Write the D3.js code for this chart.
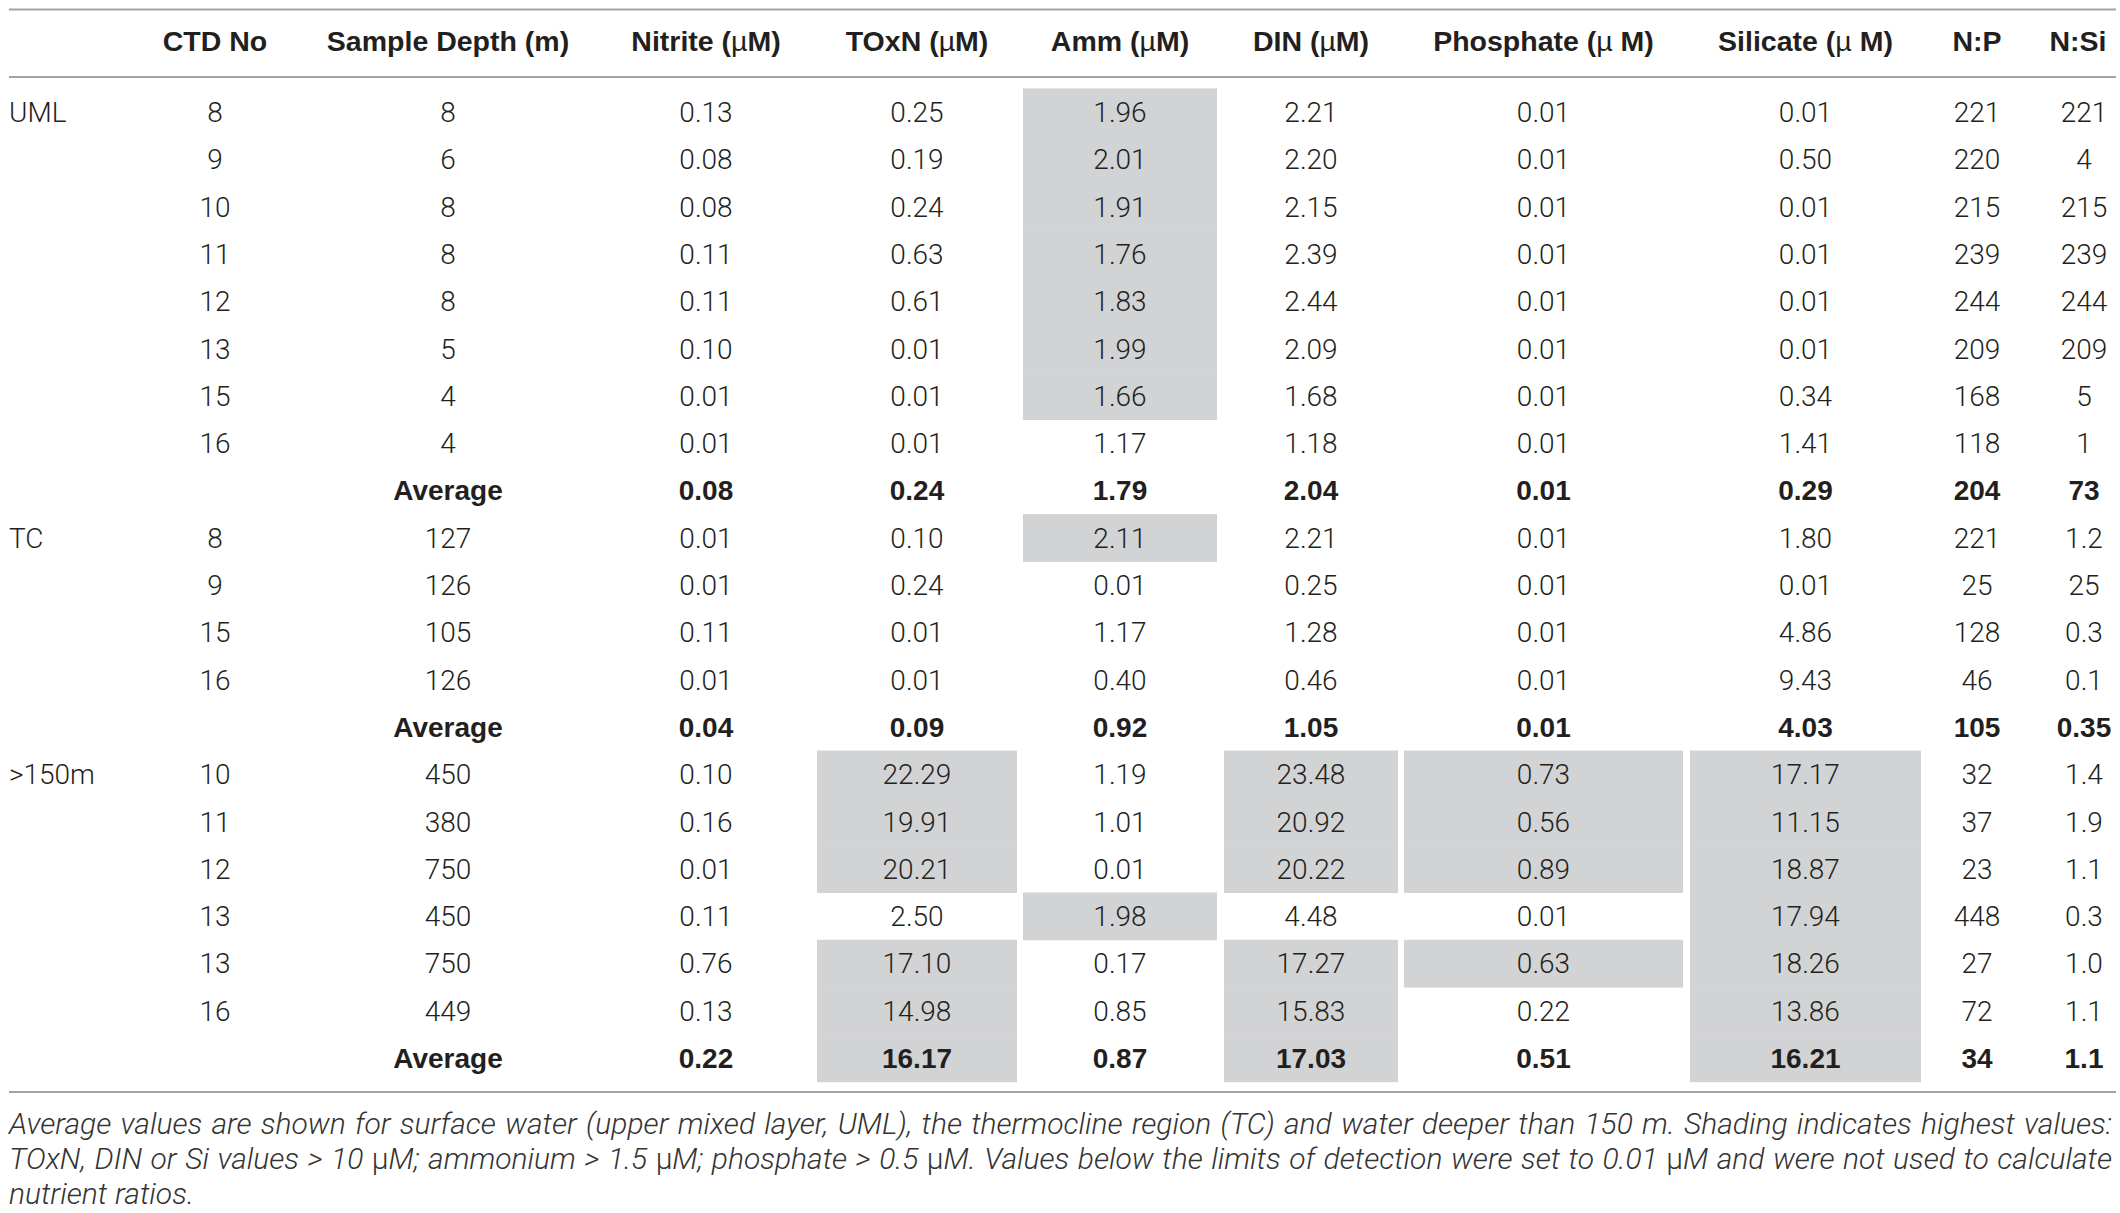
<!DOCTYPE html>
<html>
<head>
<meta charset="utf-8">
<script src="https://cdn.jsdelivr.net/npm/d3@7"></script>
<style>
    html, body { margin: 0; padding: 0; background: #fff; }
    svg { display: block; }
    .cell { font-family: Roboto, 'Liberation Sans', sans-serif; font-weight: 300; font-size: 28px; fill: #231f20; }
    .bold { font-family: 'Liberation Sans', Arial, sans-serif; font-weight: 700; }
    .head { font-family: 'Liberation Sans', Arial, sans-serif; font-weight: 700; font-size: 28.5px; fill: #231f20; }
    .mu { font-weight: 400; }
    .caption { font-family: Roboto, 'Liberation Sans', sans-serif; font-weight: 300; font-style: italic; font-size: 30px; fill: #333333; }
    .caption .upright { font-style: normal; }
</style>
</head>
<body>
<svg width="2120" height="1213"></svg>
<script>

//  Table contents, one array per column (21 rows: UML 8 + avg, TC 4 + avg, >150m 6 + avg)
const groupLabels = [ 'UML', 'TC', '>150m' ];
const groupStartRows = [ 0, 9, 14 ];
const averageRows = [ 8, 13, 20 ];

const ctdNo = [ '8', '9', '10', '11', '12', '13', '15', '16', '', '8', '9', '15', '16', '', '10', '11', '12', '13', '13', '16', '' ];
const sampleDepth = [ '8', '6', '8', '8', '8', '5', '4', '4', 'Average', '127', '126', '105', '126', 'Average', '450', '380', '750', '450', '750', '449', 'Average' ];
const nitrite = [ '0.13', '0.08', '0.08', '0.11', '0.11', '0.10', '0.01', '0.01', '0.08', '0.01', '0.01', '0.11', '0.01', '0.04', '0.10', '0.16', '0.01', '0.11', '0.76', '0.13', '0.22' ];
const toxn = [ '0.25', '0.19', '0.24', '0.63', '0.61', '0.01', '0.01', '0.01', '0.24', '0.10', '0.24', '0.01', '0.01', '0.09', '22.29', '19.91', '20.21', '2.50', '17.10', '14.98', '16.17' ];
const amm = [ '1.96', '2.01', '1.91', '1.76', '1.83', '1.99', '1.66', '1.17', '1.79', '2.11', '0.01', '1.17', '0.40', '0.92', '1.19', '1.01', '0.01', '1.98', '0.17', '0.85', '0.87' ];
const din = [ '2.21', '2.20', '2.15', '2.39', '2.44', '2.09', '1.68', '1.18', '2.04', '2.21', '0.25', '1.28', '0.46', '1.05', '23.48', '20.92', '20.22', '4.48', '17.27', '15.83', '17.03' ];
const phosphate = [ '0.01', '0.01', '0.01', '0.01', '0.01', '0.01', '0.01', '0.01', '0.01', '0.01', '0.01', '0.01', '0.01', '0.01', '0.73', '0.56', '0.89', '0.01', '0.63', '0.22', '0.51' ];
const silicate = [ '0.01', '0.50', '0.01', '0.01', '0.01', '0.01', '0.34', '1.41', '0.29', '1.80', '0.01', '4.86', '9.43', '4.03', '17.17', '11.15', '18.87', '17.94', '18.26', '13.86', '16.21' ];
const ratioNP = [ '221', '220', '215', '239', '244', '209', '168', '118', '204', '221', '25', '128', '46', '105', '32', '37', '23', '448', '27', '72', '34' ];
const ratioNSi = [ '221', '4', '215', '239', '244', '209', '5', '1', '73', '1.2', '25', '0.3', '0.1', '0.35', '1.4', '1.9', '1.1', '0.3', '1.0', '1.1', '1.1' ];

//  Column headers: [text before mu, mu, text after mu]
const headers = [
    [ 'CTD No', null ], [ 'Sample Depth (m)', null ], [ 'Nitrite (', 'µ', 'M)' ], [ 'TOxN (', 'µ', 'M)' ],
    [ 'Amm (', 'µ', 'M)' ], [ 'DIN (', 'µ', 'M)' ], [ 'Phosphate (', 'µ', ' M)' ], [ 'Silicate (', 'µ', ' M)' ],
    [ 'N:P', null ], [ 'N:Si', null ]
];
const columnKeys = [ 'ctd', 'depth', 'nitrite', 'toxn', 'amm', 'din', 'phosphate', 'silicate', 'np', 'nsi' ];
const columnValues = [ ctdNo, sampleDepth, nitrite, toxn, amm, din, phosphate, silicate, ratioNP, ratioNSi ];

//  Shaded (highest value) cells, as row indices per column
const shadedRows = {
    toxn: [ 14, 15, 16, 18, 19, 20 ],
    amm: [ 0, 1, 2, 3, 4, 5, 6, 9, 17 ],
    din: [ 14, 15, 16, 18, 19, 20 ],
    phosphate: [ 14, 15, 16, 18 ],
    silicate: [ 14, 15, 16, 17, 18, 19, 20 ]
};

const captionLines = [
    'Average values are shown for surface water (upper mixed layer, UML), the thermocline region (TC) and water deeper than 150 m. Shading indicates highest values:',
    'TOxN, DIN or Si values > 10 µM; ammonium > 1.5 µM; phosphate > 0.5 µM. Values below the limits of detection were set to 0.01 µM and were not used to calculate',
    'nutrient ratios.'
];


drawTable();


function drawTable() {

    const svg = d3.select('svg');

    //  Layout
    const tableLeft = 9, tableRight = 2116;
    const topLineY = 9.5, headLineY = 77, bottomLineY = 1092;
    const headBaseline = 50.5;
    const rowTop = 88.4, rowHeight = 47.3;
    const rowCount = ctdNo.length;

    //  Column cell edges [left, right]
    const columnEdges = [
        [ 135, 295 ], [ 301, 595 ], [ 601, 811 ], [ 817, 1017 ], [ 1023, 1217 ],
        [ 1224, 1398 ], [ 1404, 1683 ], [ 1690, 1921 ], [ 1927, 2027 ], [ 2033, 2135 ]
    ];
    const headerShift = { nsi: -6 };

    //======================================
    //  Scales
    //======================================
    const yScale = d3.scaleBand()
        .domain( d3.range(rowCount) )
        .range( [ rowTop, rowTop + rowHeight * rowCount ] )
        .padding(0);

    const xLeft = d3.scaleOrdinal().domain(columnKeys).range( columnEdges.map(e => e[0]) );
    const xRight = d3.scaleOrdinal().domain(columnKeys).range( columnEdges.map(e => e[1]) );
    const xCenter = key => (xLeft(key) + xRight(key)) / 2;


    //======================================
    //  Shading
    //======================================
    const shadeCells = [];
    Object.keys(shadedRows).forEach(key => {
        shadedRows[key].forEach(row => shadeCells.push({ key, row }));
    });

    svg.append('g')
        .attr('id', 'shading')
        .selectAll('rect')
        .data(shadeCells)
        .enter()
        .append('rect')
        .attr('x', d => xLeft(d.key))
        .attr('y', d => yScale(d.row))
        .attr('width', d => xRight(d.key) - xLeft(d.key))
        .attr('height', yScale.bandwidth() + 0.5)
        .attr('fill', '#d2d3d5');


    //======================================
    //  Rules
    //======================================
    svg.append('g')
        .attr('id', 'rules')
        .selectAll('line')
        .data([ topLineY, headLineY, bottomLineY ])
        .enter()
        .append('line')
        .attr('x1', tableLeft)
        .attr('x2', tableRight)
        .attr('y1', d => d)
        .attr('y2', d => d)
        .attr('stroke', '#a3a3a3')
        .attr('stroke-width', 2);


    //======================================
    //  Header
    //======================================
    const head = svg.append('g').attr('id', 'header');

    headers.forEach((h, i) => {
        const key = columnKeys[i];
        const text = head.append('text')
            .attr('class', 'head')
            .attr('text-anchor', 'middle')
            .attr('x', xCenter(key) + (headerShift[key] || 0))
            .attr('y', headBaseline);
        text.append('tspan').text(h[0]);
        if (h[1]) {
            text.append('tspan').attr('class', 'mu').text(h[1]);
            text.append('tspan').text(h[2]);
        }
    });


    //======================================
    //  Body cells
    //======================================
    const cells = [];
    columnValues.forEach((values, c) => {
        values.forEach((v, row) => {
            if (v !== '') cells.push({ key: columnKeys[c], row, value: v });
        });
    });

    const textY = row => yScale(row) + yScale.bandwidth() / 2 + 10;

    svg.append('g')
        .attr('id', 'cells')
        .selectAll('text')
        .data(cells)
        .enter()
        .append('text')
        .attr('class', d => averageRows.includes(d.row) ? 'cell bold' : 'cell')
        .attr('text-anchor', 'middle')
        .attr('x', d => xCenter(d.key))
        .attr('y', d => textY(d.row))
        .text(d => d.value);

    svg.append('g')
        .attr('id', 'groups')
        .selectAll('text')
        .data(groupLabels)
        .enter()
        .append('text')
        .attr('class', 'cell')
        .attr('x', tableLeft)
        .attr('y', (d, i) => textY(groupStartRows[i]))
        .text(d => d);


    //======================================
    //  Caption (justified lines)
    //======================================
    const caption = svg.append('g').attr('id', 'caption');
    const captionBaselines = [ 1134, 1169, 1204 ];

    captionLines.forEach((line, i) => {
        const words = line.split(' ');
        const justify = i < captionLines.length - 1;

        //  Each word is its own text; the micro sign is set upright as in the print
        const nodes = words.map(w => {
            const t = caption.append('text')
                .attr('class', 'caption')
                .attr('y', captionBaselines[i]);
            w.split(/(µ)/).filter(p => p !== '').forEach(p => {
                t.append('tspan')
                    .attr('class', p === 'µ' ? 'upright' : null)
                    .text(p);
            });
            return t;
        });

        const widths = nodes.map(n => n.node().getComputedTextLength());
        const spaceW = 8;
        const gap = justify
            ? (tableRight - 4 - tableLeft - d3.sum(widths)) / (words.length - 1)
            : spaceW;

        let x = tableLeft;
        nodes.forEach((n, j) => {
            n.attr('x', x);
            x += widths[j] + gap;
        });
    });
}

</script>
</body>
</html>
